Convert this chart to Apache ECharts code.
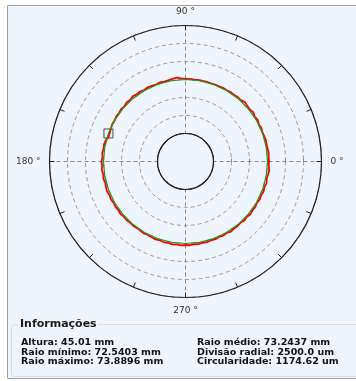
<!DOCTYPE html>
<html>
<head>
<meta charset="utf-8">
<script src="https://cdn.jsdelivr.net/npm/echarts@6/dist/echarts.min.js"></script>
<style>
  html, body { margin: 0; padding: 0; background: #ffffff; }
  #chart { width: 356px; height: 381px; }
</style>
</head>
<body>
<div id="chart"></div>
<script>
// radii in mm, angles in degrees
const meanRadius = 73.2437;
const radialDivision = 2.5; // 2500.0 um
const radialMin = 65.7437;
const radialMax = 80.7437;

const measuredAngles = [
  0, 3, 6, 9, 12, 15, 18, 21, 24, 27, 30, 33, 36, 39, 42, 45, 48, 51, 54, 57,
  60, 63, 66, 69, 72, 75, 78, 81, 84, 87, 90, 93, 96, 99, 102, 105, 108, 111, 114, 117,
  120, 123, 126, 129, 132, 135, 138, 141, 144, 147, 150, 153, 156, 159, 162, 165, 168, 171, 174, 177,
  180, 183, 186, 189, 192, 195, 198, 201, 204, 207, 210, 213, 216, 219, 222, 225, 228, 231, 234, 237,
  240, 243, 246, 249, 252, 255, 258, 261, 264, 267, 270, 273, 276, 279, 282, 285, 288, 291, 294, 297,
  300, 303, 306, 309, 312, 315, 318, 321, 324, 327, 330, 333, 336, 339, 342, 345, 348, 351, 354, 357, 360
];
const measuredRadii = [
  73.45, 73.42, 73.47, 73.40, 73.36, 73.41, 73.33, 73.30, 73.36, 73.29, 73.42, 73.31, 73.48, 73.35, 73.40, 73.52, 73.33, 73.38, 73.30, 73.36,
  73.28, 73.34, 73.27, 73.31, 73.26, 73.30, 73.29, 73.33, 73.30, 73.36, 73.34, 73.41, 73.58, 73.46, 73.38, 73.33, 73.40, 73.30, 73.36, 73.42,
  73.31, 73.45, 73.38, 73.50, 73.36, 73.44, 73.30, 73.38, 73.27, 73.33, 73.22, 73.28, 73.18, 73.10, 73.05, 73.30, 73.42, 73.36, 73.48, 73.40,
  73.52, 73.44, 73.55, 73.41, 73.50, 73.38, 73.46, 73.52, 73.40, 73.48, 73.36, 73.44, 73.38, 73.47, 73.34, 73.40, 73.31, 73.36, 73.29, 73.34,
  73.40, 73.31, 73.38, 73.44, 73.36, 73.47, 73.40, 73.50, 73.42, 73.53, 73.45, 73.50, 73.41, 73.48, 73.39, 73.45, 73.36, 73.42, 73.33, 73.40,
  73.31, 73.46, 73.34, 73.38, 73.30, 73.43, 73.33, 73.48, 73.36, 73.41, 73.32, 73.44, 73.36, 73.47, 73.38, 73.51, 73.40, 73.46, 73.55, 73.43, 73.45
];

const fitAngles = [
  0, 10, 20, 30, 40, 50, 60, 70, 80, 90, 100, 110, 120, 130, 140, 150, 160, 170, 180,
  190, 200, 210, 220, 230, 240, 250, 260, 270, 280, 290, 300, 310, 320, 330, 340, 350, 360
];

const markerAngle = 160;
const angleLabels = [0, 90, 180, 270];

const infoTitle = "Informações";
const infoLeft = ["Altura: 45.01 mm", "Raio mínimo: 72.5403 mm", "Raio máximo: 73.8896 mm"];
const infoRight = ["Raio médio: 73.2437 mm", "Divisão radial: 2500.0 um", "Circularidade: 1174.62 um"];

const fontFamily = "'DejaVu Sans', Verdana, sans-serif";

const chart = echarts.init(document.getElementById("chart"));

chart.setOption({
  animation: false,
  polar: [
    { center: [185.5, 161.5], radius: [28, 136] },
    { center: [185.5, 161.5], radius: [28, 136] },
  ],
  angleAxis: [
    {
      polarIndex: 0,
      type: "value",
      min: 0,
      max: 360,
      interval: 90,
      startAngle: 0,
      clockwise: false,
      z: 3,
      axisLine: { lineStyle: { color: "#1e1e1e", width: 1.2 } },
      axisTick: { show: false },
      axisLabel: {
        margin: 9,
        color: "#333",
        fontSize: 9,
        fontFamily: fontFamily,
        formatter: (v) => (angleLabels.indexOf(v) >= 0 ? v + " °" : ""),
      },
      splitLine: { lineStyle: { color: "#8a8a8a", type: [4, 3], width: 1 } },
    },
    {
      polarIndex: 1,
      type: "value",
      min: 0,
      max: 360,
      interval: 22.5,
      startAngle: 0,
      clockwise: false,
      z: 4,
      axisLine: { show: true, lineStyle: { color: "rgba(0,0,0,0)" } },
      axisTick: { show: true, inside: true, length: 5, lineStyle: { color: "#1e1e1e", width: 1 } },
      axisLabel: { show: false },
      splitLine: { show: false },
    },
  ],
  radiusAxis: [
    {
      polarIndex: 0,
      type: "value",
      min: radialMin,
      max: radialMax,
      interval: radialDivision,
      axisLine: { show: false },
      axisTick: { length: 3, lineStyle: { color: "#8a8a8a" } },
      axisLabel: { show: false },
      splitLine: { lineStyle: { color: "#9a9a9a", type: [4, 3], width: 1 } },
    },
    {
      polarIndex: 1,
      type: "value",
      min: radialMin,
      max: radialMax,
      axisLine: { show: false },
      axisTick: { show: false },
      axisLabel: { show: false },
      splitLine: { show: false },
    },
  ],
  graphic: [
    {
      type: "rect",
      z: -10,
      shape: { x: 7.5, y: 5.5, width: 360, height: 373 },
      style: { fill: "#eef5fc", stroke: "#a0a0a0", lineWidth: 1 },
    },
    {
      type: "rect",
      z: -9,
      shape: { x: 11.5, y: 324.5, width: 360, height: 52, r: 3 },
      style: { fill: null, stroke: "#d4dce4", lineWidth: 1 },
    },
    {
      type: "rect",
      z: -9,
      shape: { x: 18, y: 318, width: 80, height: 12 },
      style: { fill: "#eef5fc" },
    },
    {
      type: "text",
      x: 20,
      y: 324,
      style: { text: infoTitle, font: "bold 11px " + fontFamily, fill: "#1a1a1a", verticalAlign: "middle" },
    },
    ...infoLeft.map((t, i) => ({
      type: "text",
      x: 21,
      y: 343 + i * 9.3,
      style: { text: t, font: "bold 9.5px " + fontFamily, fill: "#111", verticalAlign: "middle" },
    })),
    ...infoRight.map((t, i) => ({
      type: "text",
      x: 197,
      y: 343 + i * 9.3,
      style: { text: t, font: "bold 9.5px " + fontFamily, fill: "#111", verticalAlign: "middle" },
    })),
  ],
  series: [
    {
      name: "inner",
      type: "line",
      coordinateSystem: "polar",
      polarIndex: 0,
      data: fitAngles.map((a) => [radialMin, a]),
      showSymbol: false,
      silent: true,
      lineStyle: { color: "#1e1e1e", width: 1.2 },
    },
    {
      name: "ticks",
      type: "line",
      coordinateSystem: "polar",
      polarIndex: 1,
      data: [],
      showSymbol: false,
    },
    {
      name: "measured",
      type: "line",
      coordinateSystem: "polar",
      polarIndex: 0,
      data: measuredAngles.map((a, i) => [measuredRadii[i], a]),
      showSymbol: false,
      lineStyle: { color: "#ff0000", width: 1.8 },
    },
    {
      name: "fit",
      type: "line",
      coordinateSystem: "polar",
      polarIndex: 0,
      data: fitAngles.map((a) => [meanRadius, a]),
      showSymbol: false,
      lineStyle: { color: "#1a9a1a", width: 1.2 },
    },
    {
      name: "marker",
      type: "scatter",
      coordinateSystem: "polar",
      polarIndex: 0,
      data: [[meanRadius, markerAngle]],
      symbol: "rect",
      symbolSize: 9,
      itemStyle: { color: "rgba(0,0,0,0)", borderColor: "#222", borderWidth: 1 },
    },
  ],
});
</script>
</body>
</html>
